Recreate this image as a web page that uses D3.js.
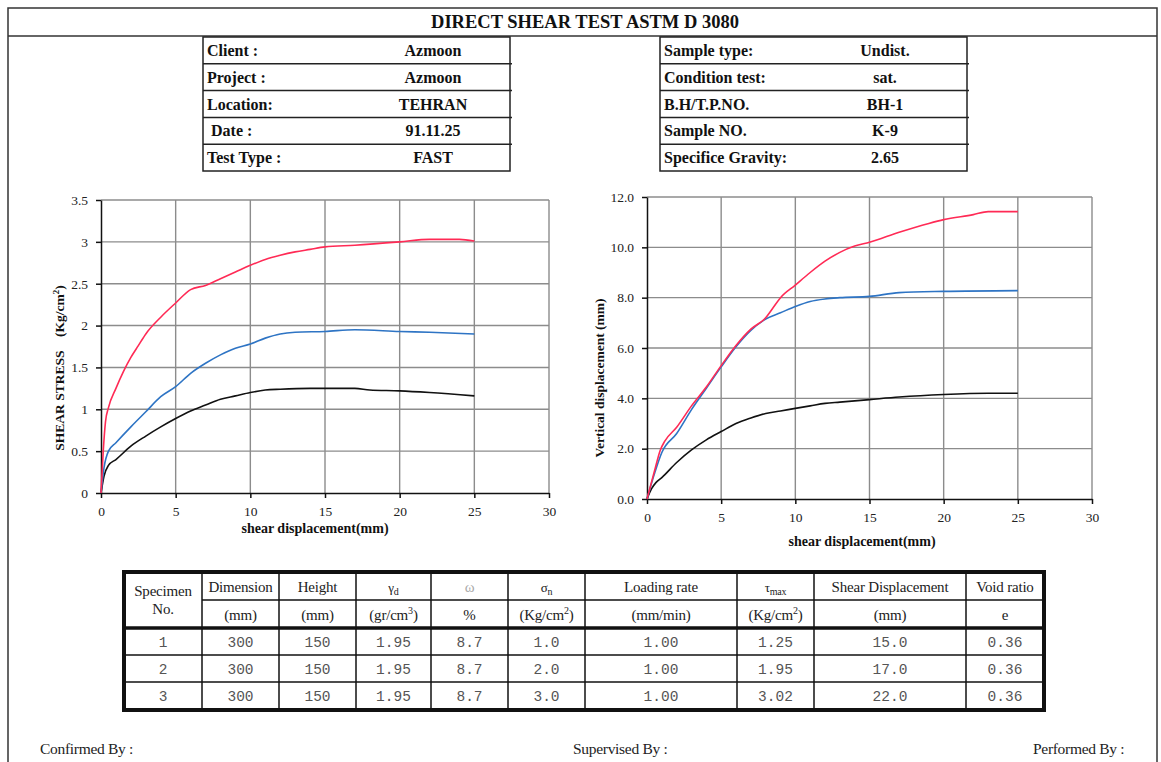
<!DOCTYPE html>
<html><head><meta charset="utf-8">
<script src="https://cdn.jsdelivr.net/npm/d3@7"></script>
<style>body{margin:0;background:#fff}svg{display:block}</style>
</head><body><svg id="c" width="1161" height="762"></svg>
<script>
// ---------- DATA ----------
const title = "DIRECT SHEAR TEST ASTM D 3080";
const headerLeft = [["Client :","Azmoon"],["Project :","Azmoon"],["Location:","TEHRAN"],[" Date :","91.11.25"],["Test Type :","FAST"]];
const headerRight = [["Sample type:","Undist."],["Condition test:","sat."],["B.H/T.P.NO.","BH-1"],["Sample NO.","K-9"],["Specifice Gravity:","2.65"]];

const xTicks = [0,5,10,15,20,25,30];
const stressTicks = [0,0.5,1,1.5,2,2.5,3,3.5];
const vertTicks = [0,2,4,6,8,10,12];

// shear stress (Kg/cm2) vs shear displacement (mm)
const stress1 = [[0,0],[0.2,0.2],[0.5,0.33],[1,0.4],[2,0.56],[3,0.68],[4,0.79],[5,0.89],[6,0.98],[7,1.05],[8,1.12],[9,1.16],[10,1.2],[11,1.23],[12,1.24],[14,1.25],[15,1.25],[17,1.25],[18,1.23],[20,1.22],[22,1.2],[25,1.16]];
const stress2 = [[0,0],[0.2,0.3],[0.5,0.5],[1,0.6],[2,0.79],[3,0.97],[4,1.15],[5,1.27],[6,1.43],[7,1.55],[8,1.65],[9,1.73],[10,1.78],[11,1.85],[12,1.9],[13,1.92],[15,1.93],[17,1.95],[20,1.93],[22,1.92],[25,1.9]];
const stress3 = [[0,0],[0.15,0.5],[0.3,0.85],[0.5,1.02],[1,1.25],[1.5,1.45],[2,1.62],[2.5,1.76],[3,1.9],[4,2.1],[5,2.27],[6,2.43],[7,2.48],[8,2.56],[9,2.64],[10,2.72],[11,2.79],[12,2.84],[13,2.88],[14,2.91],[15,2.94],[17,2.96],[20,3.0],[22,3.03],[24,3.03],[25,3.01]];

// vertical displacement (mm) vs shear displacement (mm)
const vert1 = [[0,0],[0.3,0.4],[0.6,0.65],[1,0.85],[2,1.45],[3,1.95],[4,2.35],[5,2.68],[6,3.0],[7,3.22],[8,3.4],[9,3.5],[10,3.6],[11,3.7],[12,3.8],[13,3.85],[15,3.95],[17,4.05],[20,4.15],[23,4.2],[25,4.2]];
const vert2 = [[0,0],[0.5,1.0],[1,1.85],[2,2.6],[3,3.55],[4,4.4],[5,5.25],[6,6.05],[7,6.7],[8,7.15],[9,7.4],[10,7.65],[11,7.85],[12,7.95],[13,8.0],[15,8.05],[17,8.2],[20,8.25],[25,8.28]];
const vert3 = [[0,0],[0.5,1.1],[0.9,1.95],[1.2,2.3],[2,2.85],[3,3.7],[4,4.45],[5,5.3],[6,6.1],[7,6.75],[8,7.2],[8.5,7.6],[9,8.0],[10,8.5],[11,9.0],[12,9.45],[13,9.8],[14,10.05],[15,10.2],[17,10.6],[19,10.95],[20,11.1],[22,11.3],[23,11.42],[25,11.42]];

const tableHead1 = [["Specimen"],["Dimension"],["Height"],["γ","d"],["ω"],["σ","n"],["Loading rate"],["τ","max"],["Shear Displacement"],["Void ratio"]];
const tableHead2 = [["No."],["(mm)"],["(mm)"],["(gr/cm","3",")"],["%"],["(Kg/cm","2",")"],["(mm/min)"],["(Kg/cm","2",")"],["(mm)"],["e"]];
const tableRows = [
  ["1","300","150","1.95","8.7","1.0","1.00","1.25","15.0","0.36"],
  ["2","300","150","1.95","8.7","2.0","1.00","1.95","17.0","0.36"],
  ["3","300","150","1.95","8.7","3.0","1.00","3.02","22.0","0.36"]
];
const footer = ["Confirmed By :","Supervised By :","Performed By :"];

// ---------- DRAW ----------
const svg = d3.select("#c");
const serif = "Liberation Serif, Times New Roman, serif";
const mono = "Liberation Mono, Courier New, monospace";

// outer frame
svg.append("rect").attr("x",8).attr("y",8).attr("width",1149).attr("height",780)
  .attr("fill","none").attr("stroke","#333").attr("stroke-width",1.5);
svg.append("line").attr("x1",8).attr("x2",1157).attr("y1",36).attr("y2",36).attr("stroke","#333").attr("stroke-width",1.5);
svg.append("text").attr("x",585).attr("y",28).attr("text-anchor","middle")
  .attr("font-family",serif).attr("font-weight","bold").attr("font-size",18.5).attr("fill","#111").text(title);

// header tables
function headerTable(data, x0, x1, valX){
  const top=37, rh=26.8;
  const g = svg.append("g");
  g.append("rect").attr("x",x0).attr("y",top).attr("width",x1-x0).attr("height",rh*data.length)
    .attr("fill","none").attr("stroke","#222").attr("stroke-width",1.5);
  data.forEach((d,i)=>{
    if(i>0) g.append("line").attr("x1",x0).attr("x2",x1+2).attr("y1",top+rh*i).attr("y2",top+rh*i).attr("stroke","#222").attr("stroke-width",1.5);
    const cy = top+rh*i+rh/2+5.5;
    g.append("text").attr("x",x0+4).attr("y",cy).attr("font-family",serif).attr("font-weight","bold")
      .attr("font-size",16).attr("fill","#111").attr("xml:space","preserve").text(d[0]);
    g.append("text").attr("x",valX).attr("y",cy).attr("text-anchor","middle").attr("font-family",serif).attr("font-weight","bold")
      .attr("font-size",16).attr("fill","#111").text(d[1]);
  });
}
headerTable(headerLeft,203,510,433);
headerTable(headerRight,660,967,885);

// charts
const colors = ["#111111","#2e74c4","#ff2a55"];
function chart(opt){
  const x = d3.scaleLinear().domain([0,30]).range([opt.x0,opt.x1]);
  const y = d3.scaleLinear().domain(opt.ydom).range([opt.y0,opt.y1]);
  const g = svg.append("g");
  g.selectAll(".gx").data(xTicks.slice(1)).enter().append("line")
    .attr("x1",d=>x(d)).attr("x2",d=>x(d)).attr("y1",opt.y0).attr("y2",opt.y1)
    .attr("stroke","#8c8c8c").attr("stroke-width",1.4);
  g.selectAll(".gy").data(opt.yticks.slice(1)).enter().append("line")
    .attr("x1",opt.x0).attr("x2",opt.x1).attr("y1",d=>y(d)).attr("y2",d=>y(d))
    .attr("stroke","#8c8c8c").attr("stroke-width",1.4);
  const ax = g.append("g").attr("transform",`translate(0,${opt.y0})`)
    .call(d3.axisBottom(x).tickValues(xTicks).tickSize(5).tickSizeOuter(0).tickPadding(8));
  const ay = g.append("g").attr("transform",`translate(${opt.x0},0)`)
    .call(d3.axisLeft(y).tickValues(opt.yticks).tickSize(5).tickSizeOuter(0).tickPadding(8).tickFormat(opt.fmt));
  [ax,ay].forEach(a=>{
    a.selectAll("path,line").attr("stroke","#111").attr("stroke-width",1.5);
    a.selectAll("text").attr("font-family",serif).attr("font-size",13.5).attr("fill","#222");
  });
  const line = d3.line().x(d=>x(d[0])).y(d=>y(d[1])).curve(d3.curveMonotoneX);
  opt.series.forEach((s,i)=>{
    g.append("path").datum(s).attr("d",line).attr("fill","none").attr("stroke",colors[i]).attr("stroke-width",1.6);
  });
  g.append("text").attr("x",opt.xlabX).attr("y",opt.xlabY).attr("text-anchor","middle")
    .attr("font-family",serif).attr("font-weight","bold").attr("font-size",14).attr("fill","#111").text("shear displacement(mm)");
  const yl = g.append("text").attr("transform",`translate(${opt.ylabX},${opt.ylabY}) rotate(-90)`).attr("text-anchor","middle")
    .attr("font-family",serif).attr("font-weight","bold").attr("font-size",13.5).attr("fill","#111").attr("xml:space","preserve");
  opt.ylab(yl);
}
chart({x0:101,x1:549,y0:493,y1:200,ydom:[0,3.5],yticks:stressTicks,fmt:d3.format(""),
  series:[stress1,stress2,stress3],xlabX:315,xlabY:533,ylabX:64,ylabY:368,
  ylab:t=>{t.append("tspan").text("SHEAR STRESS    (Kg/cm");t.append("tspan").attr("font-size",9).attr("dy",-5).text("2");t.append("tspan").attr("dy",5).text(")");}});
chart({x0:647,x1:1092,y0:499,y1:197,ydom:[0,12],yticks:vertTicks,fmt:d3.format(".1f"),
  series:[vert1,vert2,vert3],xlabX:862,xlabY:546,ylabX:604,ylabY:378,
  ylab:t=>t.text("Vertical displacement (mm)")});

// bottom table
const colB = [124,202,279,356,431,508,585,737,814,966,1044];
const rowB = [572,600,628,655,682,710];
const tg = svg.append("g");
const ln = (x1,y1,x2,y2,w)=>tg.append("line").attr("x1",x1).attr("y1",y1).attr("x2",x2).attr("y2",y2).attr("stroke","#111").attr("stroke-width",w);
colB.slice(1,-1).forEach(cx=>ln(cx,rowB[0],cx,rowB[5],1.5));
ln(colB[1],rowB[1],colB[10],rowB[1],1.5);
ln(colB[0],rowB[2],colB[10],rowB[2],3.5);
ln(colB[0],rowB[3],colB[10],rowB[3],1.5);
ln(colB[0],rowB[4],colB[10],rowB[4],1.5);
tg.append("rect").attr("x",colB[0]).attr("y",rowB[0]).attr("width",colB[10]-colB[0]).attr("height",rowB[5]-rowB[0])
  .attr("fill","none").attr("stroke","#111").attr("stroke-width",4);
function rich(sel, parts, supSub){
  sel.append("tspan").text(parts[0]);
  if(parts.length>1){
    sel.append("tspan").attr("font-size",10).attr("dy",supSub).text(parts[1]);
    if(parts.length>2) sel.append("tspan").attr("dy",-supSub).text(parts[2]);
  }
}
tableHead1.forEach((p,i)=>{
  const cx=(colB[i]+colB[i+1])/2;
  const t=tg.append("text").attr("x",cx).attr("y",i===0?596:592).attr("text-anchor","middle")
    .attr("font-family",serif).attr("font-size",i===3||i===5||i===7?13:15).attr("letter-spacing",-0.2).attr("fill",i===4?"#aaa":"#222");
  rich(t,p,3);
});
tableHead2.forEach((p,i)=>{
  const cx=(colB[i]+colB[i+1])/2;
  const t=tg.append("text").attr("x",cx).attr("y",i===0?614:620).attr("text-anchor","middle")
    .attr("font-family",serif).attr("font-size",15).attr("letter-spacing",-0.2).attr("fill","#222");
  rich(t,p,-6);
});
tableRows.forEach((r,ri)=>{
  r.forEach((v,i)=>{
    tg.append("text").attr("x",(colB[i]+colB[i+1])/2).attr("y",(rowB[ri+2]+rowB[ri+3])/2+5).attr("text-anchor","middle")
      .attr("font-family",mono).attr("font-size",14.5).attr("fill","#555").text(v);
  });
});

// footer
const fx=[40,573,1033];
footer.forEach((f,i)=>svg.append("text").attr("x",fx[i]).attr("y",754).attr("font-family",serif)
  .attr("font-size",15.5).attr("letter-spacing",-0.3).attr("fill","#222").text(f));
</script></body></html>
